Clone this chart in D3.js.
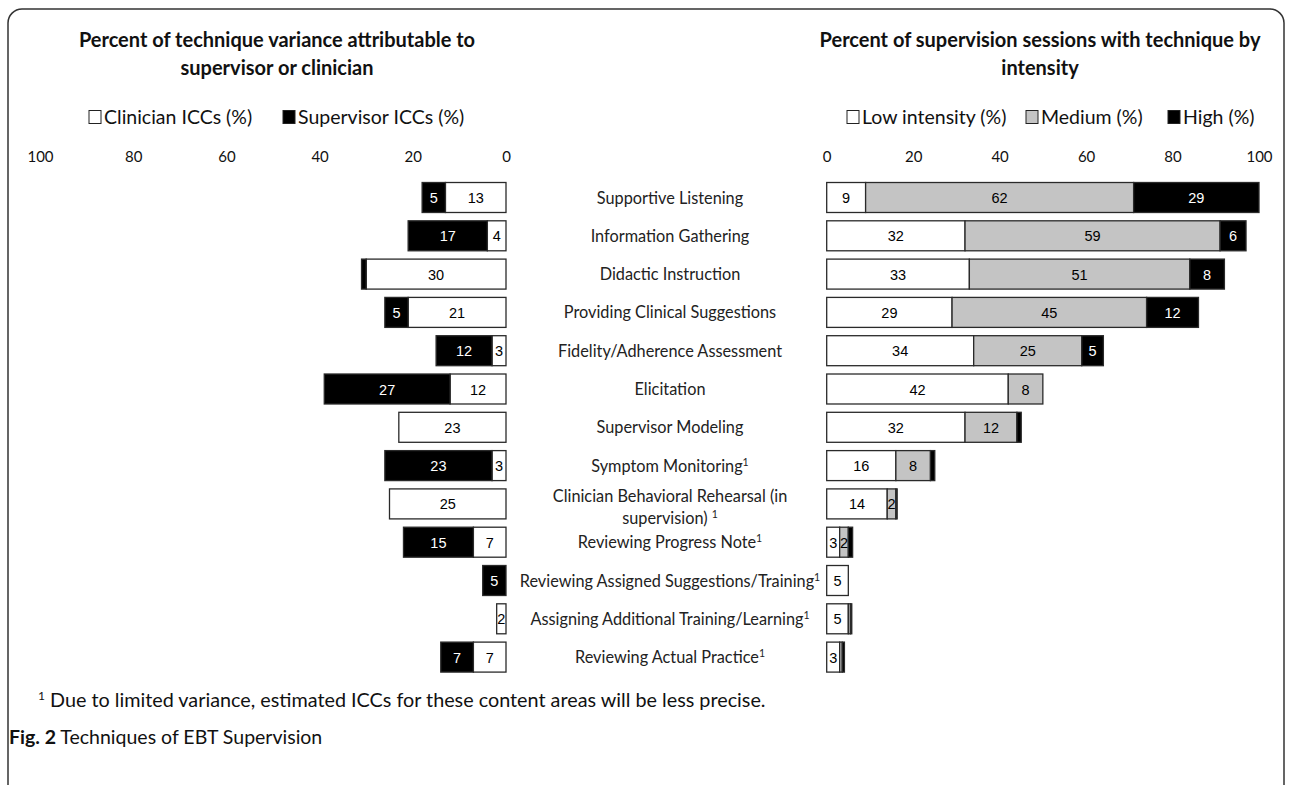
<!DOCTYPE html>
<html>
<head>
<meta charset="utf-8">
<script src="https://cdn.jsdelivr.net/npm/d3@7"></script>
<style>
  html, body { margin: 0; padding: 0; background: #fff; }
  svg { display: block; }
</style>
</head>
<body>
<svg id="chart" width="1292" height="785"></svg>
<script>
// ---------------- DATA ----------------
const categories = [
  "Supportive Listening",
  "Information Gathering",
  "Didactic Instruction",
  "Providing Clinical Suggestions",
  "Fidelity/Adherence Assessment",
  "Elicitation",
  "Supervisor Modeling",
  "Symptom  Monitoring",
  "Clinician Behavioral Rehearsal (in supervision)",
  "Reviewing Progress Note",
  "Reviewing Assigned Suggestions/Training",
  "Assigning  Additional Training/Learning",
  "Reviewing Actual Practice"
];
// footnote marker flags (1 = has superscript 1)
const footnoted = [0,0,0,0,0,0,0,1,1,1,1,1,1];

const clinicianICC  = [13, 4, 30, 21, 3, 12, 23, 3, 25, 7, 0, 2, 7];
const supervisorICC = [5, 17, 1, 5, 12, 27, 0, 23, 0, 15, 5, 0, 7];

const lowIntensity  = [9, 32, 33, 29, 34, 42, 32, 16, 14, 3, 5, 5, 3];
const medIntensity  = [62, 59, 51, 45, 25, 8, 12, 8, 2, 2, 0, 0.5, 0.6];
const highIntensity = [29, 6, 8, 12, 5, 0, 1, 1, 0.3, 1, 0, 0.3, 0.5];

const leftTicks  = [100, 80, 60, 40, 20, 0];
const rightTicks = [0, 20, 40, 60, 80, 100];

const leftTitle  = ["Percent of technique variance attributable to", "supervisor or clinician"];
const rightTitle = ["Percent of supervision sessions with technique by", "intensity"];
const leftLegend  = [["Clinician ICCs (%)", "#fff"], ["Supervisor ICCs (%)", "#000"]];
const rightLegend = [["Low intensity (%)", "#fff"], ["Medium (%)", "#c4c4c4"], ["High (%)", "#000"]];
const footnote = "Due to limited variance, estimated ICCs for these content areas will be less precise.";
const captionBold = "Fig. 2";
const captionText = " Techniques of EBT Supervision";

// ---------------- LAYOUT ----------------
const svg = d3.select("#chart");
const TXT = "Lato, 'Open Sans', sans-serif";
const NUM = "'Liberation Sans', Arial, sans-serif";

// frame
svg.append("rect")
  .attr("x", 8).attr("y", 9).attr("width", 1276).attr("height", 790)
  .attr("rx", 14).attr("fill", "none").attr("stroke", "#333").attr("stroke-width", 1.5);

const step = 38.3;
const y = d3.scaleBand().domain(categories)
  .range([197.5 - step / 2, 197.5 + step * 12.5])
  .paddingInner(0.217).paddingOuter(0.1085);

const xL = d3.scaleLinear().domain([0, 100]).range([506, 40]);
const xR = d3.scaleLinear().domain([0, 100]).range([826.7, 1259]);

// titles
function title(lines, cx) {
  const t = svg.append("text").attr("text-anchor", "middle")
    .attr("font-family", TXT).attr("font-weight", "bold").attr("font-size", 20).attr("fill", "#111");
  lines.forEach((l, i) => t.append("tspan").attr("x", cx).attr("y", 47 + i * 28).text(l));
}
title(leftTitle, 277);
title(rightTitle, 1040);

// legends
function legend(items, xs) {
  items.forEach((it, i) => {
    const x = xs[i];
    svg.append("rect").attr("x", x).attr("y", 110.5).attr("width", 12).attr("height", 13)
      .attr("fill", it[1]).attr("stroke", "#222").attr("stroke-width", 1);
    svg.append("text").attr("x", x + 15).attr("y", 124)
      .attr("font-family", TXT).attr("font-size", 19.5).attr("fill", "#111").text(it[0]);
  });
}
legend(leftLegend, [89, 283]);
legend(rightLegend, [847, 1026, 1168]);

// axes
const axL = svg.append("g").attr("transform", "translate(0,162)")
  .call(d3.axisTop(xL).tickValues(leftTicks).tickSize(0).tickPadding(0).tickFormat(d3.format("d")));
const axR = svg.append("g").attr("transform", "translate(0,162)")
  .call(d3.axisTop(xR).tickValues(rightTicks).tickSize(0).tickPadding(0).tickFormat(d3.format("d")));
[axL, axR].forEach(a => {
  a.select(".domain").remove();
  a.selectAll("text").attr("font-family", TXT).attr("font-size", 15).attr("fill", "#111");
});

// left stacked bars (clinician adjacent to 0, supervisor outward)
const leftSeries = categories.map((c, i) => ({ c, segs: [
  { v0: 0, v1: clinicianICC[i], fill: "#fff", txt: "#000", v: clinicianICC[i] },
  { v0: clinicianICC[i], v1: clinicianICC[i] + supervisorICC[i], fill: "#000", txt: "#fff", v: supervisorICC[i] }
]}));
const rightSeries = categories.map((c, i) => {
  const a = lowIntensity[i], b = medIntensity[i], h = highIntensity[i];
  return { c, segs: [
    { v0: 0, v1: a, fill: "#fff", txt: "#000", v: a },
    { v0: a, v1: a + b, fill: "#c4c4c4", txt: "#000", v: b },
    { v0: a + b, v1: a + b + h, fill: "#000", txt: "#fff", v: h }
  ]};
});

function drawBars(series, x) {
  const g = svg.append("g");
  const rows = g.selectAll("g.row").data(series).join("g").attr("class", "row");
  rows.each(function(d) {
    const r = d3.select(this);
    const segs = d.segs.filter(s => s.v > 0);
    r.selectAll("rect.seg").data(segs).join("rect").attr("class", "seg")
      .attr("x", s => Math.min(x(s.v0), x(s.v1)))
      .attr("width", s => Math.abs(x(s.v1) - x(s.v0)))
      .attr("y", y(d.c)).attr("height", y.bandwidth())
      .attr("fill", s => s.fill).attr("stroke", "#2a2a2a").attr("stroke-width", 1.3);
    r.selectAll("text.lab").data(segs.filter(s => s.v >= 2)).join("text").attr("class", "lab")
      .attr("x", s => (x(s.v0) + x(s.v1)) / 2)
      .attr("y", y(d.c) + y.bandwidth() / 2 + 5.5)
      .attr("text-anchor", "middle").attr("font-family", NUM).attr("font-size", 14.5)
      .attr("fill", s => s.txt).text(s => d3.format("d")(s.v));
  });
}
drawBars(leftSeries, xL);
drawBars(rightSeries, xR);

// category labels
const labX = 670;
categories.forEach((c, i) => {
  const cy = y(c) + y.bandwidth() / 2;
  const t = svg.append("text").attr("text-anchor", "middle")
    .attr("font-family", TXT).attr("font-size", 16.3).attr("fill", "#222");
  if (c.startsWith("Clinician Behavioral")) {
    t.append("tspan").attr("x", labX).attr("y", cy - 2).text("Clinician Behavioral Rehearsal (in");
    t.append("tspan").attr("x", labX).attr("y", cy + 20).text("supervision) ");
    t.append("tspan").attr("font-size", 10.5).attr("dy", -6).text("1");
  } else {
    t.attr("x", labX).attr("y", cy + 6);
    t.append("tspan").text(c);
    if (footnoted[i]) t.append("tspan").attr("font-size", 10.5).attr("dy", -6).text("1");
  }
});

// footnote & caption
const fn = svg.append("text").attr("x", 38).attr("y", 707)
  .attr("font-family", TXT).attr("font-size", 19.8).attr("fill", "#111");
fn.append("tspan").attr("font-size", 12).attr("dy", -7).text("1");
fn.append("tspan").attr("dy", 7).text(" " + footnote);

const cap = svg.append("text").attr("x", 9).attr("y", 744)
  .attr("font-family", TXT).attr("font-size", 19.5).attr("fill", "#111");
cap.append("tspan").attr("font-weight", "bold").text(captionBold);
cap.append("tspan").text(captionText);
</script>
</body>
</html>
